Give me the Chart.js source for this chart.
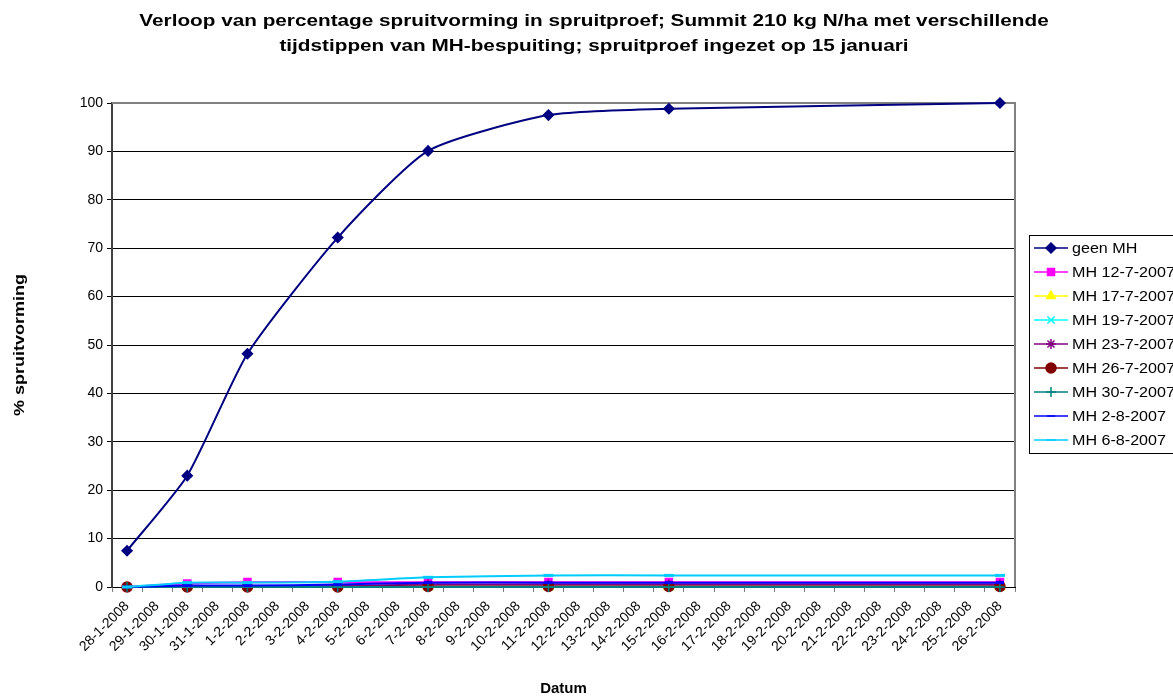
<!DOCTYPE html>
<html>
<head>
<meta charset="utf-8">
<title>Spruitvorming</title>
<script src="https://cdn.jsdelivr.net/npm/chart.js@4.4.1/dist/chart.umd.min.js"></script>
<style>
  html, body { margin: 0; padding: 0; background: #fff; }
  #wrap { width: 1173px; height: 698px; }
</style>
</head>
<body>
<div id="wrap"><canvas id="chart" width="1173" height="698"></canvas></div>
<script>
/* ---------- DATA ---------- */
const dates = [
  "28-1-2008", "29-1-2008", "30-1-2008", "31-1-2008", "1-2-2008", "2-2-2008",
  "3-2-2008", "4-2-2008", "5-2-2008", "6-2-2008", "7-2-2008", "8-2-2008",
  "9-2-2008", "10-2-2008", "11-2-2008", "12-2-2008", "13-2-2008", "14-2-2008",
  "15-2-2008", "16-2-2008", "17-2-2008", "18-2-2008", "19-2-2008", "20-2-2008",
  "21-2-2008", "22-2-2008", "23-2-2008", "24-2-2008", "25-2-2008", "26-2-2008"
];
// days on which the sprouting was counted
const sampleDates = ["28-1-2008", "30-1-2008", "1-2-2008", "4-2-2008", "7-2-2008", "11-2-2008", "15-2-2008", "26-2-2008"];

const geenMH   = [7.5, 23.0, 48.2, 72.2, 90.1, 97.5, 98.8, 100];
const mh12jul  = [0, 0.7, 1.0, 1.0, 1.0, 1.0, 1.0, 1.0];
const mh17jul  = [0, 0, 0, 0, 0, 0, 0, 0];
const mh19jul  = [0, 0, 0, 0, 0, 0, 0, 0];
const mh23jul  = [0, 0, 0, 0.2, 0.5, 0.5, 0.5, 0.5];
const mh26jul  = [0, 0, 0, 0, 0.1, 0.1, 0.1, 0.1];
const mh30jul  = [0, 0, 0, 0, 0, 0, 0, 0];
const mh2aug   = [0, 0.3, 0.3, 0.5, 0.9, 0.9, 0.9, 0.9];
const mh6aug   = [0, 0.9, 0.9, 1.1, 2.0, 2.4, 2.4, 2.4];

const seriesNames = ["geen MH", "MH 12-7-2007", "MH 17-7-2007", "MH 19-7-2007", "MH 23-7-2007",
                     "MH 26-7-2007", "MH 30-7-2007", "MH 2-8-2007", "MH 6-8-2007"];
const seriesValues = [geenMH, mh12jul, mh17jul, mh19jul, mh23jul, mh26jul, mh30jul, mh2aug, mh6aug];

const titleLines = [
  "Verloop van percentage spruitvorming in spruitproef; Summit 210 kg N/ha met verschillende",
  "tijdstippen van MH-bespuiting; spruitproef ingezet op 15 januari"
];
const yTitle = "% spruitvorming";

/* ---------- STYLES ---------- */
const colors  = ["#000080", "#FF00FF", "#FFFF00", "#00FFFF", "#800080", "#800000", "#008080", "#0000FF", "#00CCFF"];
const markers = ["rectRot", "rect", "triangle", "crossRot", "star", "circle", "cross", "line", "line"];
const radii   = [5, 5, 5, 5, 5, 5, 5, 4, 5];
const FONT = "'Liberation Sans', Arial, sans-serif";

// spread the measured values over the daily axis (gaps are spanned)
function toDaily(vals) {
  return dates.map(d => {
    const i = sampleDates.indexOf(d);
    return i < 0 ? null : vals[i];
  });
}

const datasets = seriesNames.map((name, i) => ({
  label: name,
  data: toDaily(seriesValues[i]),
  borderColor: colors[i],
  backgroundColor: colors[i],
  borderWidth: 2,
  pointStyle: markers[i],
  pointRadius: radii[i],
  pointBorderWidth: markers[i] === "line" ? 3 : 1.5,
  pointBorderColor: colors[i],
  pointBackgroundColor: colors[i],
  tension: 0.2,
  spanGaps: true,
  clip: false,
  order: seriesNames.length - i   // later series on top, like Excel
}));

// text drawn a little wider along its reading direction
function wideText(ctx, text, x, y, align, stretch, angle) {
  ctx.save();
  ctx.translate(x, y);
  if (angle) ctx.rotate(angle);
  ctx.scale(stretch, 1);
  ctx.textAlign = align;
  ctx.fillText(text, 0, 0);
  ctx.restore();
}

/* ---------- PLUGINS ---------- */
const titlePlugin = {
  id: "titleLines",
  afterDraw(chart) {
    const ctx = chart.ctx;
    ctx.save();
    ctx.fillStyle = "#000";
    ctx.textBaseline = "alphabetic";
    ctx.font = "bold 17px " + FONT;
    wideText(ctx, titleLines[0], 594, 26, "center", 1.22);
    wideText(ctx, titleLines[1], 594, 51, "center", 1.22);
    // y axis title, rotated
    ctx.font = "bold 15px " + FONT;
    ctx.textBaseline = "middle";
    wideText(ctx, yTitle, 20, 345, "center", 1.2, -Math.PI / 2);
    ctx.restore();
  }
};

const borderPlugin = {
  id: "plotBorder",
  beforeDatasetsDraw(chart) {
    const a = chart.chartArea, ctx = chart.ctx;
    ctx.save();
    ctx.strokeStyle = "#808080";
    ctx.lineWidth = 2;
    ctx.beginPath();
    ctx.moveTo(a.left, a.top);
    ctx.lineTo(a.right, a.top);
    ctx.lineTo(a.right, a.bottom);
    ctx.stroke();
    ctx.restore();
  }
};

const legendPlugin = {
  id: "excelLegend",
  afterDraw(chart) {
    const ctx = chart.ctx;
    const left = 1029, top = 235, rowH = 24, firstRow = 248;
    const h = rowH * (seriesNames.length - 1) + 2 * (firstRow - top);
    ctx.save();
    ctx.fillStyle = "#fff";
    ctx.fillRect(left, top, 200, h);
    ctx.strokeStyle = "#000";
    ctx.lineWidth = 1;
    ctx.strokeRect(left + 0.5, top + 0.5, 200, h);
    ctx.font = "14px " + FONT;
    ctx.textBaseline = "middle";
    seriesNames.forEach((name, i) => {
      const y = firstRow + i * rowH;
      ctx.strokeStyle = colors[i];
      ctx.fillStyle = colors[i];
      ctx.lineWidth = 1.5;
      ctx.beginPath();
      ctx.moveTo(1034, y);
      ctx.lineTo(1068, y);
      ctx.stroke();
      Chart.helpers.drawPoint(ctx, {
        pointStyle: markers[i],
        radius: radii[i],
        rotation: 0,
        borderWidth: markers[i] === "line" ? 3 : 1.5
      }, 1051, y);
      ctx.fillStyle = "#000";
      wideText(ctx, name, 1072, y + 1, "left", 1.15);
    });
    ctx.restore();
  }
};

/* ---------- CHART ---------- */
new Chart(document.getElementById("chart"), {
  type: "line",
  data: { labels: dates, datasets },
  options: {
    responsive: false,
    animation: false,
    layout: { padding: { top: 103, right: 158, left: 0, bottom: 0 } },
    plugins: { legend: { display: false }, tooltip: { enabled: false }, title: { display: false } },
    scales: {
      x: {
        offset: true,
        afterFit: s => { s.height = 111; },
        grid: { offset: true, drawOnChartArea: false, drawTicks: true, tickLength: 5, color: "#808080" },
        border: { color: "#000", width: 1 },
        ticks: {
          autoSkip: false, minRotation: 45, maxRotation: 45, padding: 6,
          color: "#000", font: { family: FONT, size: 14 }
        },
        title: {
          display: true, text: "Datum", color: "#000",
          font: { family: FONT, size: 15, weight: "bold" }, padding: { top: 0, bottom: 0 }
        }
      },
      y: {
        min: 0, max: 100,
        afterFit: s => { s.width = 112; },
        grid: {
          color: ctx => ctx.tick && ctx.tick.value === 100 ? "#808080" : "#000",
          lineWidth: 1, drawTicks: true, tickLength: 5, tickColor: "#000"
        },
        border: { color: "#404040", width: 2 },
        ticks: { stepSize: 10, padding: 4, color: "#000", font: { family: FONT, size: 14 } }
      }
    }
  },
  plugins: [borderPlugin, titlePlugin, legendPlugin]
});
</script>
</body>
</html>
